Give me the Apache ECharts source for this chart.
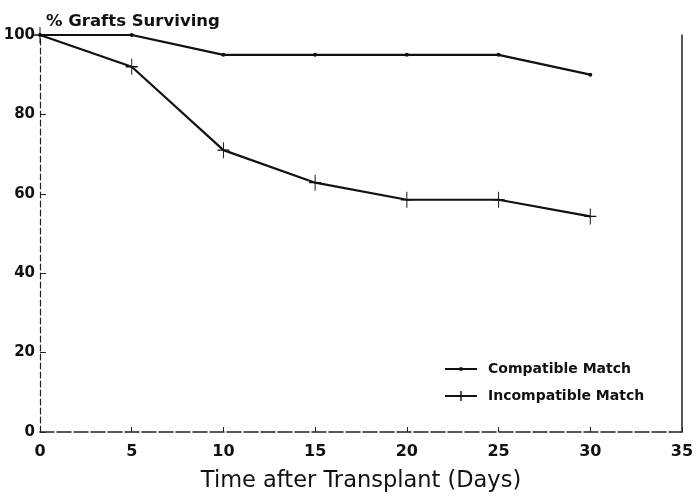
<!DOCTYPE html>
<html><head><meta charset="utf-8">
<script src="https://cdn.jsdelivr.net/npm/echarts@6/dist/echarts.min.js"></script>
<style>html,body{margin:0;padding:0;background:#fff}#c{width:700px;height:500px}</style>
</head><body><div id="c"></div>
<script>
const days = [0, 5, 10, 15, 20, 25, 30];
const compatible = [100, 100, 95, 95, 95, 95, 90];
const incompatible = [100, 92, 71, 62.8, 58.5, 58.5, 54.3];
const seriesNames = ['Compatible Match', 'Incompatible Match'];
const yTitle = '% Grafts Surviving';
const xTitle = 'Time after Transplant (Days)';

const crossPath = 'path://M-0.08,-1H0.08V-0.08H1V0.08H0.08V1H-0.08V0.08H-1V-0.08H-0.08Z';
const iconDot = 'path://M0,4H32V6H0Z M14.5,3.2H17.5V6.8H14.5Z';
const iconCross = 'path://M0,4H32V6H0Z M15.3,0H16.7V10H15.3Z';
const font = 'DejaVu Sans, Liberation Sans, sans-serif';
const chart = echarts.init(document.getElementById('c'), null, {renderer: 'canvas'});
chart.setOption({
  animation: false,
  backgroundColor: '#fff',
  grid: {left: 40, right: 18, top: 35, bottom: 68},
  title: {text: yTitle, left: 41, top: 8, textStyle: {fontFamily: font, fontSize: 16.5, fontWeight: 'bold', color: '#111'}},
  legend: {
    orient: 'vertical', left: 440, top: 357, itemGap: 13, itemWidth: 32, itemHeight: 10,
    textStyle: {fontFamily: font, fontSize: 14, fontWeight: 'bold', color: '#111', padding: [0,0,0,6]},
    data: [{name: seriesNames[0], icon: iconDot}, {name: seriesNames[1], icon: iconCross}]
  },
  xAxis: {
    type: 'value', min: 0, max: 35, interval: 5,
    name: xTitle, nameLocation: 'middle', nameGap: 38,
    nameTextStyle: {fontFamily: font, fontSize: 22.5, color: '#111'},
    axisLine: {lineStyle: {color: '#222', width: 1.5, type: [14, 3]}},
    axisTick: {inside: true, length: 5, lineStyle: {color: '#222'}},
    axisLabel: {fontFamily: font, fontSize: 16, fontWeight: 'bold', color: '#111', margin: 12},
    splitLine: {show: false}
  },
  yAxis: [{
    type: 'value', min: 0, max: 100, interval: 20,
    axisLine: {show: true, lineStyle: {color: '#222', width: 1.2, type: [6, 3]}},
    axisTick: {show: true, inside: true, length: 6, lineStyle: {color: '#222'}},
    axisLabel: {fontFamily: font, fontSize: 15, fontWeight: 'bold', color: '#111', margin: 5},
    splitLine: {show: false}
  }, {
    type: 'value', min: 0, max: 100, interval: 20, position: 'right',
    axisLine: {show: true, lineStyle: {color: '#222', width: 1.5}},
    axisTick: {show: false}, axisLabel: {show: false}, splitLine: {show: false}
  }],
  series: [{
    name: seriesNames[0], type: 'line',
    data: days.map((d, i) => [d, compatible[i]]),
    symbol: 'circle', symbolSize: 4,
    lineStyle: {color: '#111', width: 2.2},
    itemStyle: {color: '#111'}
  }, {
    name: seriesNames[1], type: 'line',
    data: days.map((d, i) => [d, incompatible[i]]),
    symbol: crossPath, symbolSize: [12, 16], symbolKeepAspect: false,
    lineStyle: {color: '#111', width: 2.2},
    itemStyle: {color: '#111'}
  }]
});
</script></body></html>
